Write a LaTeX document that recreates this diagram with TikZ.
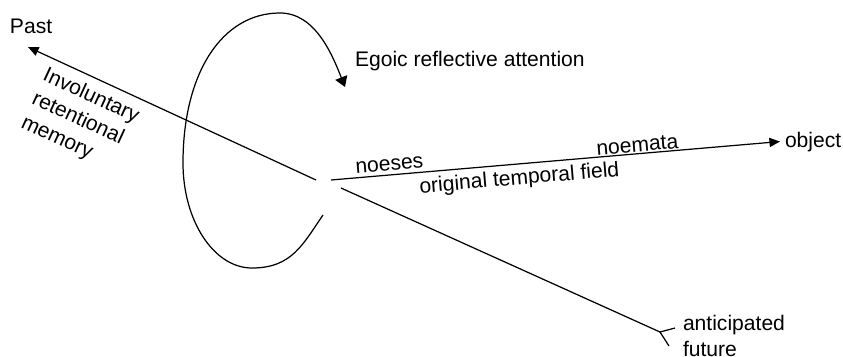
\documentclass[tikz,border=0pt]{standalone}
\usepackage{fontspec}
\setmainfont{Liberation Sans}
\usetikzlibrary{arrows.meta}

\begin{document}
\begin{tikzpicture}[x=0.02cm, y=-0.02cm, line width=0.7pt,
  lbl/.style={inner sep=0pt, outer sep=0pt, align=left,
    font=\fontsize{12}{14.8}\selectfont},
  tip/.style={-{Triangle[length=6pt, width=5.2pt]}},
  looptip/.style={-{Triangle[length=5.8pt, width=7.2pt]}}]

\useasboundingbox (0,0) rectangle (843,356);

% --- ENDS: the three time lines round the ego centre ---
\coordinate (pastS) at (316,180);
\coordinate (pastT) at (28,47);
\coordinate (nowS)  at (331,180);
\coordinate (futS)  at (341,188);
\coordinate (futE)  at (660,332);
\coordinate (futA)  at (675,328);
\coordinate (futB)  at (669,346);
\coordinate (loopS) at (323,215);
\coordinate (loopE) at (345,87);

% --- LABELS (multi-line ones sit on their last baseline) ---
\node[lbl, anchor=base west] (past) at (10,33) {Past};
\node[lbl, anchor=base west, rotate=-24.8] (retention) at (20,127)
  {Involuntary\\retentional\\memory};
\node[lbl, anchor=base west] (ego) at (355,66) {Egoic reflective attention};
\node[lbl, anchor=base west, rotate=4.8] (noeses) at (356,173) {noeses};
\node[lbl, anchor=base west, rotate=4.8] (noemata) at (597,155) {noemata};
\node[lbl, anchor=base west, rotate=4.8] (field) at (420,193)
  {original temporal field};
\node[lbl, anchor=base west, inner xsep=0.1cm] (object) at (780,147) {object};
\node[lbl, anchor=base west] (future) at (683,356) {anticipated\\future};

% --- TIME LINES ---
\draw[tip] (pastS) -- (pastT);
\draw[tip] (nowS) -- (object.west);
\draw (futS) -- (futE);
\draw (futA) -- (futE) -- (futB);

% --- REFLECTIVE LOOP ---
\draw[looptip] (loopS) .. controls (303,244) and (292,268) .. (252,268)
  .. controls (214,268) and (183,221) .. (183,163)
  .. controls (183,73) and (222,13) .. (280,13)
  .. controls (315,13) and (332,54) .. (loopE);

\end{tikzpicture}
\end{document}
